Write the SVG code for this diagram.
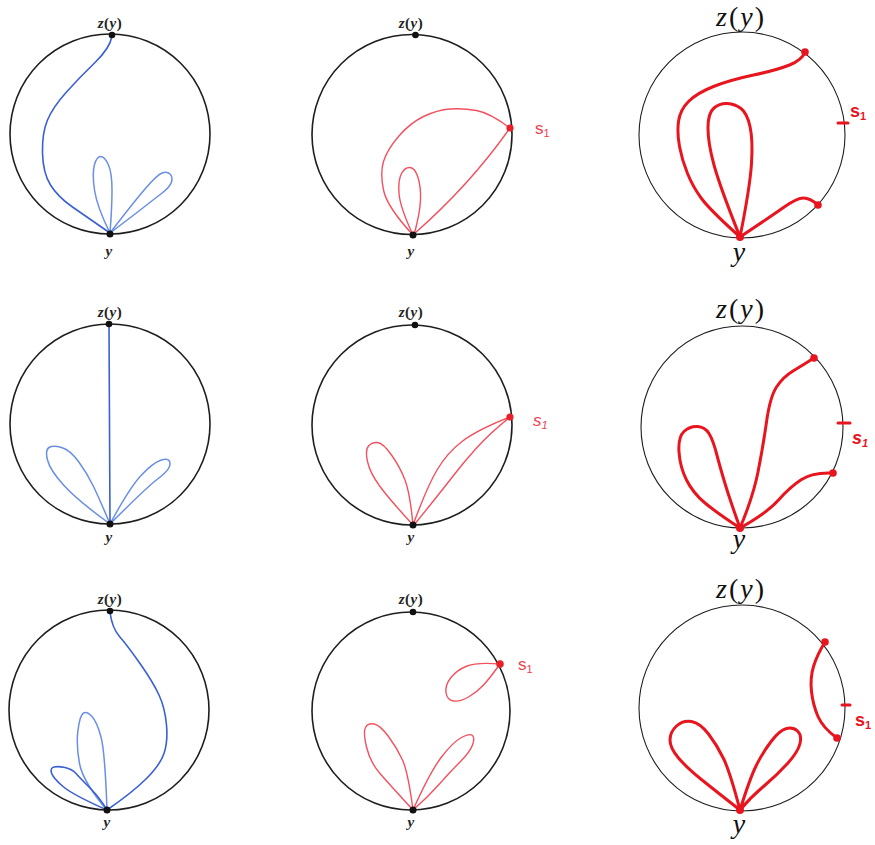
<svg xmlns="http://www.w3.org/2000/svg" width="875" height="845" viewBox="0 0 875 845">
<style>
.circ{fill:none;stroke:#1e1e1e;stroke-width:1.6}
.circ3{fill:none;stroke:#1e1e1e;stroke-width:1.1}
.blue{fill:none;stroke:#3a60d2;stroke-width:1.6;stroke-linecap:round;stroke-linejoin:round}
.blue2{fill:none;stroke:#6a8fe4;stroke-width:1.5;stroke-linecap:round;stroke-linejoin:round}
.pink{fill:none;stroke:#f2515f;stroke-width:1.4;stroke-linecap:round;stroke-linejoin:round}
.red{fill:none;stroke:#e8141e;stroke-width:3;stroke-linecap:round;stroke-linejoin:round}
.dot{fill:#111}
.pdot{fill:#e8202a}
.rdot{fill:#e8141e}
.lab{font-family:"Liberation Serif",serif;font-size:15px;font-weight:bold;text-anchor:middle;fill:#222;letter-spacing:0.5px}
.big{font-family:"Liberation Serif",serif;font-size:28px;text-anchor:middle;fill:#111;letter-spacing:2px}
.it{font-style:italic}
.s1{font-family:"Liberation Sans",sans-serif;font-size:17px;fill:#f0404e}
.s1b{font-family:"Liberation Sans",sans-serif;font-size:18px;font-weight:bold;fill:#e8141e}
.sub{font-size:11px}
</style>
<rect width="875" height="845" fill="#ffffff"/>

<!-- Panel 1 -->
<g id="panel1">
<circle class="circ" cx="110" cy="134" r="100"/>
<g id="p1-curves">
<path class="blue" d="M112,36 Q110,48 95,62.5 Q80,77 66.5,92 Q53,107 47.5,120 Q42,133 42.5,153 Q43,173 50.5,185 Q58,197 72.5,207 Q87,217 110,233"/>
<path class="blue2" d="M110,233 Q97,207 94.5,190 Q92,173 94.5,164.5 Q97,156 101,156.5 Q105,157 108.5,165 Q112,173 112,190 Q112,207 110,233"/>
<path class="blue2" d="M110,233 Q133,203 145,189 Q157,175 162,173 Q167,171 170,174 Q173,177 171.5,182 Q170,187 161.5,193.5 Q153,200 141.5,209 Q130,218 110,233"/>
</g>
<circle class="dot" cx="112" cy="35" r="3.3"/>
<circle class="dot" cx="110" cy="234" r="3.5"/>
<text class="lab" x="110" y="28"><tspan class="it">z</tspan>(<tspan class="it">y</tspan>)</text>
<text class="lab it" x="109" y="256">y</text>
</g>

<!-- Panel 2 -->
<g id="panel2">
<circle class="circ" cx="412" cy="134.5" r="100"/>
<g id="p2-curves">
<path class="pink" d="M413,235 Q387,207 383.5,190 Q380,173 383.5,161.5 Q387,150 398.5,136.5 Q410,123 423.5,116.5 Q437,110 450,109 Q463,108 476.5,110.5 Q490,113 510,128 Q470,185 414,234"/>
<path class="pink" d="M413,235 Q400,207 399,193.5 Q398,180 401.5,173.5 Q405,167 410,167.5 Q415,168 418,177.5 Q421,187 420.5,200 Q420,213 414,235"/>
</g>
<circle class="dot" cx="415.5" cy="35" r="3.3"/>
<circle class="dot" cx="413" cy="235" r="3.5"/>
<circle class="pdot" cx="510" cy="128" r="3.6"/>
<text class="lab" x="411" y="28"><tspan class="it">z</tspan>(<tspan class="it">y</tspan>)</text>
<text class="lab it" x="411" y="256">y</text>
<text class="s1" x="535" y="134">s<tspan class="sub" dy="3">1</tspan></text>
</g>

<!-- Panel 3 -->
<g id="panel3">
<circle class="circ3" cx="742" cy="135" r="103"/>
<g id="p3-curves">
<path class="red" d="M805,52 Q802,60 789.5,65 Q777,70 753.5,75 Q730,80 713.5,86.5 Q697,93 688.5,101.5 Q680,110 678.5,121.5 Q677,133 679.5,146.5 Q682,160 687.5,173.5 Q693,187 701.5,198.5 Q710,210 740,237"/>
<path class="red" d="M740,237 Q720,187 714,165 Q708,143 708,128 Q708,113 714,108 Q720,103 727.5,103.5 Q735,104 741,108.5 Q747,113 750,126.5 Q753,140 751.5,163.5 Q750,187 740,237"/>
<path class="red" d="M740,237 Q770,217 783.5,207.5 Q797,198 803.5,198 Q810,198 818,205"/>
<line class="red" x1="838" y1="123" x2="848" y2="123"/>
</g>
<circle class="rdot" cx="805" cy="52" r="3.8"/>
<circle class="rdot" cx="818" cy="205" r="3.8"/>
<circle class="rdot" cx="740" cy="237" r="4"/>
<text class="big" x="741" y="26"><tspan class="it">z</tspan>(<tspan class="it">y</tspan>)</text>
<text class="big it" x="740" y="261">y</text>
<text class="s1b" x="850" y="117">s<tspan class="sub" dy="3">1</tspan></text>
</g>

<!-- Panel 4 -->
<g id="panel4">
<circle class="circ" cx="110" cy="424" r="100"/>
<g id="p4-curves">
<path class="blue" d="M109,324 L110,524"/>
<path class="blue2" d="M110,524 Q77,500 63.5,485 Q50,470 47.5,460 Q45,450 49,447.5 Q53,445 61.5,447.5 Q70,450 78.5,461.5 Q87,473 93.5,486.5 Q100,500 110,524"/>
<path class="blue2" d="M110,524 Q130,487 141.5,475 Q153,463 160,460.5 Q167,458 169,460.5 Q171,463 169,467.5 Q167,472 157,479.5 Q147,487 110,524"/>
</g>
<circle class="dot" cx="109" cy="324" r="3.3"/>
<circle class="dot" cx="110" cy="524" r="3.5"/>
<text class="lab" x="110" y="317"><tspan class="it">z</tspan>(<tspan class="it">y</tspan>)</text>
<text class="lab it" x="109" y="542">y</text>
</g>

<!-- Panel 5 -->
<g id="panel5">
<circle class="circ" cx="412" cy="425" r="100"/>
<g id="p5-curves">
<path class="pink" d="M413,525 Q390,500 380,486.5 Q370,473 367.5,461.5 Q365,450 368.5,446 Q372,442 377.5,442.5 Q383,443 391.5,455 Q400,467 405,480 Q410,493 413,525"/>
<path class="pink" d="M413,525 Q427,487 437,470 Q447,453 462,441.5 Q477,430 510,417 Q490,433 476.5,448 Q463,463 451.5,478 Q440,493 414,525"/>
</g>
<circle class="dot" cx="415" cy="325" r="3.3"/>
<circle class="dot" cx="413" cy="525" r="3.5"/>
<circle class="pdot" cx="510" cy="417" r="3.6"/>
<text class="lab" x="411" y="317"><tspan class="it">z</tspan>(<tspan class="it">y</tspan>)</text>
<text class="lab it" x="411" y="542">y</text>
<text class="s1 it" x="533" y="426">s<tspan class="sub" dy="3">1</tspan></text>
</g>

<!-- Panel 6 -->
<g id="panel6">
<circle class="circ3" cx="742" cy="427" r="101"/>
<g id="p6-curves">
<path class="red" d="M740,528 Q753,497 758,472 Q763,447 766.5,422 Q770,397 776.5,387 Q783,377 793,371 Q803,365 814,358"/>
<path class="red" d="M740,528 Q717,513 705,503 Q693,493 686.5,480 Q680,467 679,452 Q678,437 684,431.5 Q690,426 697.5,426.5 Q705,427 709,433.5 Q713,440 716.5,453.5 Q720,467 725,483.5 Q730,500 740,528"/>
<path class="red" d="M740,528 Q767,513 778.5,500 Q790,487 801.5,479.5 Q813,472 833,473"/>
<line class="red" x1="838" y1="423" x2="850" y2="423"/>
</g>
<circle class="rdot" cx="814" cy="358" r="3.8"/>
<circle class="rdot" cx="833" cy="473" r="3.8"/>
<circle class="rdot" cx="740" cy="528" r="4"/>
<text class="big" x="741" y="318"><tspan class="it">z</tspan>(<tspan class="it">y</tspan>)</text>
<text class="big it" x="740" y="548">y</text>
<text class="s1b it" x="852" y="444">s<tspan class="sub" dy="3">1</tspan></text>
</g>

<!-- Panel 7 -->
<g id="panel7">
<circle class="circ" cx="109" cy="710" r="100"/>
<g id="p7-curves">
<path class="blue" d="M110,612 Q112,628 119.5,636.5 Q127,645 140,663.5 Q153,682 159,695 Q165,708 166.5,725 Q168,742 164,753.5 Q160,765 146.5,778.5 Q133,792 107,810"/>
<path class="blue2" d="M107,810 Q83,782 79.5,763.5 Q76,745 78,730 Q80,715 83.5,713 Q87,711 92,716.5 Q97,722 101,737 Q105,752 107,810"/>
<path class="blue" d="M107,810 Q73,795 63,786.5 Q53,778 51.5,773 Q50,768 54,767 Q58,766 65,767.5 Q72,769 76,773.5 Q80,778 90,788 Q100,798 107,810"/>
</g>
<circle class="dot" cx="110" cy="611" r="3.3"/>
<circle class="dot" cx="107" cy="810" r="3.5"/>
<text class="lab" x="110" y="604"><tspan class="it">z</tspan>(<tspan class="it">y</tspan>)</text>
<text class="lab it" x="107" y="827">y</text>
</g>

<!-- Panel 8 -->
<g id="panel8">
<circle class="circ" cx="411" cy="711" r="99"/>
<g id="p8-curves">
<path class="pink" d="M500,664 Q477,662 467,666 Q457,670 451,677.5 Q445,685 446,692.5 Q447,700 453.5,701 Q460,702 468.5,697 Q477,692 483.5,685 Q490,678 500,664"/>
<path class="pink" d="M413,810 Q390,785 380,773.5 Q370,762 366.5,747 Q363,732 365.5,727.5 Q368,723 374,724 Q380,725 388.5,736.5 Q397,748 402.5,760 Q408,772 413,810"/>
<path class="pink" d="M413,810 Q430,772 441.5,757 Q453,742 461.5,737.5 Q470,733 472.5,735.5 Q475,738 472.5,745 Q470,752 460,762 Q450,772 438.5,785 Q427,798 413,810"/>
</g>
<circle class="dot" cx="413" cy="612" r="3.3"/>
<circle class="dot" cx="413" cy="810" r="3.5"/>
<circle class="pdot" cx="500" cy="664" r="3.8"/>
<text class="lab" x="411" y="604"><tspan class="it">z</tspan>(<tspan class="it">y</tspan>)</text>
<text class="lab it" x="411" y="827">y</text>
<text class="s1" x="518" y="670">s<tspan class="sub" dy="3">1</tspan></text>
</g>

<!-- Panel 9 -->
<g id="panel9">
<circle class="circ3" cx="742" cy="708" r="103"/>
<g id="p9-curves">
<path class="red" d="M825,642 Q817,655 813.5,666.5 Q810,678 811.5,691.5 Q813,705 818,716.5 Q823,728 837,738"/>
<path class="red" d="M740,810 Q717,792 702,780 Q687,768 678.5,758 Q670,748 670,740 Q670,732 676.5,726 Q683,720 691.5,721.5 Q700,723 708.5,734 Q717,745 723.5,758.5 Q730,772 740,810"/>
<path class="red" d="M740,810 Q750,778 756.5,765 Q763,752 771.5,741 Q780,730 786.5,728.5 Q793,727 797.5,731 Q802,735 800,743.5 Q798,752 787.5,763.5 Q777,775 763.5,786.5 Q750,798 740,810"/>
<line class="red" x1="842" y1="705" x2="850" y2="705"/>
</g>
<circle class="rdot" cx="825" cy="642" r="3.8"/>
<circle class="rdot" cx="837" cy="738" r="3.8"/>
<circle class="rdot" cx="740" cy="810" r="4"/>
<text class="big" x="741" y="598"><tspan class="it">z</tspan>(<tspan class="it">y</tspan>)</text>
<text class="big it" x="740" y="833">y</text>
<text class="s1b" x="855" y="726">s<tspan class="sub" dy="3">1</tspan></text>
</g>
</svg>
